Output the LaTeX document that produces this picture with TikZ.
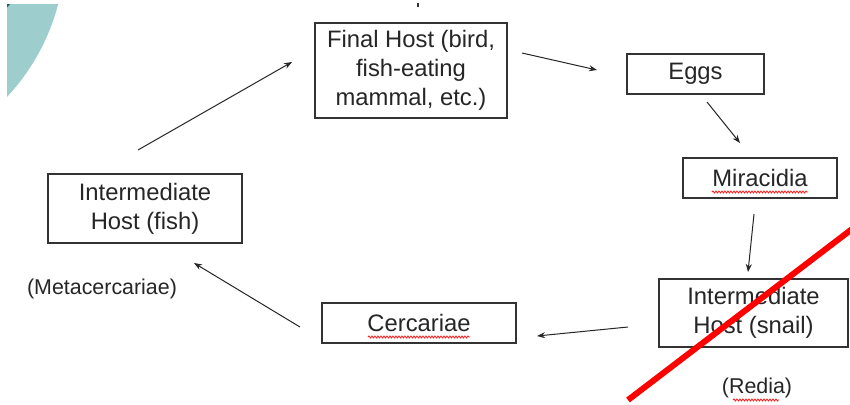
\documentclass[tikz,border=0pt]{standalone}
\usepackage{fontspec}
\setmainfont{Liberation Sans}
\usetikzlibrary{arrows.meta,decorations.pathmorphing}
\definecolor{tealbg}{HTML}{9DCDCD}
\definecolor{tealdark}{HTML}{0F6464}
\definecolor{boxline}{HTML}{333333}
\definecolor{txt}{HTML}{262626}
\begin{document}
\begin{tikzpicture}[x=1pt,y=-1pt,
  hostbox/.style={draw=boxline,line width=1.3pt,fill=white,inner sep=0pt,align=center,
    text=txt,font=\fontsize{23.8}{29}\selectfont},
  arr/.style={draw=black!85,line width=1pt,-{Stealth[length=8pt,width=6pt]}},
  note/.style={text=txt,font=\fontsize{21.4}{26}\selectfont,inner sep=0pt},
  spell/.style={draw=red!90,line width=0.8pt,decorate,decoration={snake,amplitude=1pt,segment length=3pt}}]
\useasboundingbox (0,0) rectangle (850,404);
\fill[white] (0,0) rectangle (850,404);
% background circle
\begin{scope}
  \clip (7,5) rectangle (850,404);
  \fill[tealbg] (-150,-50) circle (215);
  \fill[tealdark] (-60,-60) circle (95);
\end{scope}
\fill[black!80] (417,3) rectangle (419,7);
% boxes
\node[hostbox,minimum width=192pt,minimum height=95pt] (final) at (411,70.5) {Final Host (bird,\\fish-eating\\mammal, etc.)};
\node[hostbox,minimum width=137pt,minimum height=40pt] (eggs) at (695.5,74) {Eggs};
\node[hostbox,minimum width=154pt,minimum height=40pt] (mira) at (760,178) {Miracidia};
\node[hostbox,minimum width=189pt,minimum height=68pt] (snail) at (753.5,313) {Intermediate\\Host (snail)};
\node[hostbox,minimum width=194pt,minimum height=40pt] (cerc) at (419,323) {Cercariae};
\node[hostbox,minimum width=194pt,minimum height=69pt] (fish) at (145,208.5) {Intermediate\\Host (fish)};
\node[note] (meta) at (102,289) {(Metacercariae)};
\node[note] (redia) at (757,388) {(Redia)};
% spell-check underlines
\draw[spell] (712,192) -- (808,192);
\draw[spell] (368,337) -- (470,337);
\draw[spell] (733,400) -- (779,400);
% arrow end points
\coordinate (a1) at (138,150); \coordinate (a2) at (292,62);
\coordinate (b1) at (522,53);  \coordinate (b2) at (597,70);
\coordinate (c1) at (707,102); \coordinate (c2) at (740,143);
\coordinate (d1) at (754,214); \coordinate (d2) at (748,272);
\coordinate (e1) at (628,327); \coordinate (e2) at (537,336);
\coordinate (f1) at (300,327); \coordinate (f2) at (194,263);
\draw[arr] (a1) -- (a2);
\draw[arr] (b1) -- (b2);
\draw[arr] (c1) -- (c2);
\draw[arr] (d1) -- (d2);
\draw[arr] (e1) -- (e2);
\draw[arr] (f1) -- (f2);
% red cross-out line
\begin{scope}
  \clip (0,0) rectangle (850,404);
  \coordinate (r1) at (628,400); \coordinate (r2) at (856,226);
  \draw[red,line width=6pt] (r1) -- (r2);
\end{scope}
\end{tikzpicture}
\end{document}
